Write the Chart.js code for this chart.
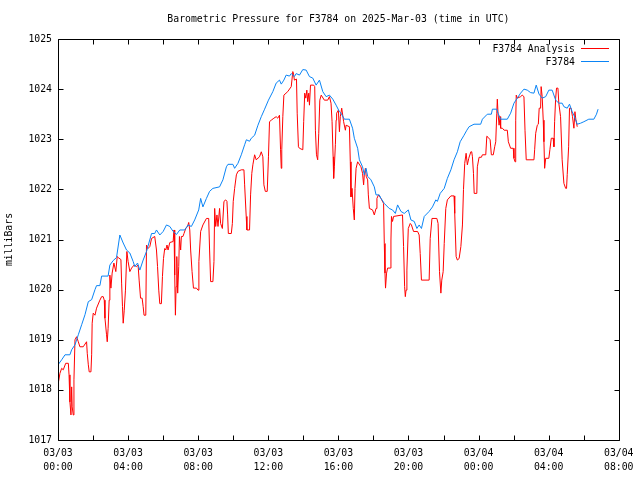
<!DOCTYPE html>
<html>
<head>
<meta charset="utf-8">
<script src="https://cdn.jsdelivr.net/npm/chart.js@4"></script>
<style>
  html, body { margin: 0; padding: 0; background: #fff; }
  #wrap { width: 640px; height: 480px; }
</style>
</head>
<body>
<div id="wrap"><canvas id="pressureChart" width="640" height="480"></canvas></div>
<script>
// hours since 2025-03-03 00:00 UTC
const xTickLabels = [
  ['03/03', '00:00'], ['03/03', '04:00'], ['03/03', '08:00'], ['03/03', '12:00'],
  ['03/03', '16:00'], ['03/03', '20:00'], ['03/04', '00:00'], ['03/04', '04:00'], ['03/04', '08:00']
];
const seriesNames = ['F3784 Analysis', 'F3784'];
const chartTitle = 'Barometric Pressure for F3784 on 2025-Mar-03 (time in UTC)';

const stationHours = [0.0,0.21,0.40,0.68,0.78,0.97,1.16,1.35,1.54,1.73,1.92,2.11,2.20,2.39,2.49,2.86,2.96,3.15,3.34,3.53,3.72,3.91,4.10,4.29,4.38,4.54,4.67,4.86,5.05,5.34,5.52,5.62,5.81,6.00,6.19,6.38,6.57,6.76,6.95,7.23,7.42,7.61,7.80,8.03,8.14,8.27,8.47,8.65,8.84,9.22,9.41,9.61,9.70,9.98,10.08,10.27,10.46,10.65,10.75,10.93,11.03,11.22,11.41,11.60,11.79,12.01,12.26,12.45,12.64,12.74,12.89,13.02,13.21,13.31,13.49,13.59,13.78,13.97,14.16,14.35,14.54,14.73,14.92,15.11,15.30,15.49,15.68,15.87,16.06,16.15,16.34,16.63,16.81,16.91,17.10,17.20,17.38,17.48,17.58,17.67,17.86,18.05,18.15,18.33,18.43,18.62,18.90,19.09,19.25,19.38,19.57,19.76,19.99,20.14,20.33,20.48,20.61,20.74,20.90,21.18,21.37,21.56,21.65,21.81,22.04,22.22,22.42,22.60,22.79,22.95,23.17,23.33,23.46,23.74,24.12,24.22,24.50,24.73,24.79,25.04,25.11,25.26,25.64,25.83,26.02,26.21,26.40,26.59,26.78,26.97,27.16,27.29,27.45,27.63,27.83,28.01,28.20,28.40,28.58,28.77,28.87,29.06,29.19,29.34,29.44,29.63,29.82,30.01,30.29,30.58,30.73,30.82];
const stationValues = [1018.50,1018.60,1018.70,1018.70,1018.80,1018.90,1019.10,1019.30,1019.50,1019.76,1019.80,1020.00,1020.08,1020.08,1020.27,1020.27,1020.49,1020.58,1020.64,1021.09,1020.93,1020.79,1020.73,1020.56,1020.46,1020.53,1020.39,1020.59,1020.76,1021.12,1021.12,1021.19,1021.09,1021.16,1021.29,1021.26,1021.16,1021.10,1021.19,1021.19,1021.29,1021.26,1021.39,1021.59,1021.82,1021.65,1021.82,1021.96,1022.02,1022.05,1022.19,1022.45,1022.50,1022.50,1022.42,1022.52,1022.69,1022.89,1022.99,1022.96,1023.02,1023.08,1023.28,1023.45,1023.60,1023.78,1023.95,1024.12,1024.18,1024.10,1024.18,1024.28,1024.26,1024.31,1024.25,1024.31,1024.28,1024.39,1024.38,1024.25,1024.22,1024.08,1024.18,1023.95,1023.85,1023.88,1023.80,1023.68,1023.55,1023.52,1023.40,1023.40,1023.22,1023.02,1022.82,1022.59,1022.45,1022.29,1022.42,1022.26,1022.19,1022.05,1021.89,1021.89,1021.82,1021.72,1021.62,1021.59,1021.52,1021.69,1021.56,1021.52,1021.59,1021.39,1021.36,1021.22,1021.29,1021.22,1021.46,1021.56,1021.65,1021.79,1021.76,1021.92,1022.02,1022.22,1022.39,1022.59,1022.75,1022.95,1023.08,1023.18,1023.25,1023.30,1023.30,1023.40,1023.50,1023.50,1023.60,1023.60,1023.52,1023.40,1023.40,1023.52,1023.72,1023.82,1023.92,1024.00,1023.98,1023.93,1023.92,1024.08,1023.90,1023.82,1023.85,1023.98,1023.98,1023.78,1023.72,1023.72,1023.65,1023.62,1023.70,1023.55,1023.48,1023.30,1023.32,1023.35,1023.40,1023.40,1023.50,1023.60];

const analysisHours = [0.0,0.03,0.11,0.21,0.30,0.44,0.59,0.63,0.68,0.74,0.78,0.81,0.87,0.91,0.97,1.06,1.16,1.25,1.44,1.63,1.67,1.73,1.78,1.88,1.92,1.95,2.01,2.11,2.20,2.39,2.49,2.58,2.64,2.68,2.77,2.81,2.86,2.92,2.96,3.02,3.09,3.19,3.30,3.38,3.47,3.59,3.63,3.68,3.72,3.78,3.85,3.93,4.00,4.10,4.20,4.34,4.48,4.57,4.63,4.71,4.80,4.86,4.91,5.01,5.05,5.14,5.24,5.34,5.52,5.62,5.68,5.75,5.81,5.90,5.96,6.02,6.09,6.15,6.22,6.28,6.38,6.57,6.62,6.66,6.70,6.74,6.78,6.83,6.89,6.93,7.00,7.04,7.13,7.19,7.29,7.39,7.46,7.52,7.57,7.65,7.73,7.90,7.99,8.04,8.14,8.27,8.47,8.60,8.65,8.71,8.84,8.90,8.94,9.00,9.07,9.13,9.22,9.28,9.38,9.47,9.57,9.64,9.68,9.72,9.89,9.95,10.00,10.08,10.18,10.27,10.46,10.61,10.65,10.74,10.78,10.93,10.99,11.06,11.12,11.22,11.31,11.50,11.60,11.69,11.75,11.83,11.94,12.01,12.07,12.17,12.32,12.45,12.54,12.64,12.70,12.74,12.77,12.83,12.89,13.11,13.31,13.40,13.44,13.49,13.61,13.65,13.72,13.78,13.97,14.02,14.08,14.14,14.20,14.25,14.31,14.35,14.41,14.59,14.65,14.69,14.75,14.82,14.88,14.94,15.02,15.20,15.39,15.49,15.58,15.64,15.70,15.73,15.77,15.83,15.87,15.90,16.00,16.06,16.11,16.19,16.30,16.40,16.44,16.63,16.68,16.72,16.78,16.85,16.91,16.95,17.01,17.10,17.29,17.38,17.44,17.48,17.54,17.59,17.67,17.71,17.77,17.95,18.05,18.15,18.20,18.29,18.43,18.58,18.62,18.66,18.69,18.75,18.81,18.96,19.00,19.03,19.09,19.15,19.66,19.72,19.78,19.82,19.86,19.91,19.99,20.10,20.17,20.29,20.52,20.61,20.67,20.74,21.18,21.24,21.34,21.62,21.69,21.77,21.85,21.90,21.98,22.04,22.13,22.22,22.42,22.60,22.64,22.72,22.79,22.89,22.99,23.08,23.14,23.21,23.29,23.36,23.44,23.56,23.61,23.65,23.71,23.75,23.90,23.93,24.03,24.16,24.22,24.41,24.47,24.54,24.66,24.73,24.84,24.92,24.98,25.04,25.07,25.11,25.17,25.23,25.26,25.36,25.46,25.64,25.70,25.83,25.98,26.02,26.08,26.12,26.15,26.21,26.40,26.49,26.59,26.65,26.72,27.16,27.20,27.26,27.35,27.41,27.46,27.54,27.57,27.63,27.69,27.73,27.77,27.83,28.01,28.07,28.15,28.26,28.30,28.34,28.40,28.45,28.53,28.58,28.68,28.77,28.87,28.97,29.02,29.06,29.14,29.19,29.28,29.36,29.44,29.50,29.55,29.63];
const analysisValues = [1018.06,1018.16,1018.33,1018.43,1018.40,1018.53,1018.53,1018.30,1017.76,1017.50,1018.06,1017.66,1017.50,1018.20,1019.00,1019.06,1018.96,1018.86,1018.86,1018.96,1018.73,1018.50,1018.36,1018.36,1018.70,1019.33,1019.53,1019.49,1019.63,1019.79,1019.86,1019.86,1019.79,1019.43,1019.10,1018.96,1019.23,1019.79,1020.29,1020.03,1020.33,1020.53,1020.36,1020.66,1020.63,1020.60,1020.13,1019.66,1019.33,1019.59,1019.99,1020.76,1020.56,1020.36,1020.43,1020.49,1020.46,1020.49,1020.19,1019.83,1019.83,1019.66,1019.49,1019.49,1020.89,1020.82,1020.86,1021.02,1021.06,1020.79,1020.46,1019.99,1019.72,1019.72,1020.26,1020.62,1020.82,1020.79,1020.89,1020.79,1020.94,1020.96,1021.19,1020.29,1019.49,1020.06,1020.66,1019.93,1020.46,1021.06,1020.79,1021.06,1021.06,1021.12,1021.22,1021.26,1021.34,1021.19,1020.79,1020.36,1020.03,1020.03,1019.99,1020.56,1021.16,1021.29,1021.42,1021.42,1020.79,1020.16,1020.16,1020.56,1021.62,1021.26,1021.49,1021.26,1021.62,1021.32,1021.22,1021.76,1021.79,1021.76,1021.49,1021.12,1021.12,1021.32,1021.76,1022.02,1022.29,1022.36,1022.39,1022.39,1022.09,1021.46,1021.19,1021.19,1021.89,1022.32,1022.49,1022.69,1022.59,1022.65,1022.75,1022.65,1022.09,1021.96,1021.96,1022.65,1023.35,1023.38,1023.42,1023.45,1023.42,1023.48,1022.79,1022.42,1022.79,1023.45,1023.88,1023.95,1024.05,1024.35,1024.30,1024.18,1024.20,1023.52,1022.85,1022.82,1022.79,1023.35,1023.92,1023.82,1023.98,1023.75,1023.92,1023.68,1024.08,1024.08,1024.05,1023.18,1022.69,1022.59,1023.12,1023.78,1023.88,1023.78,1023.78,1023.85,1023.72,1023.35,1022.65,1022.22,1022.45,1022.90,1023.38,1023.52,1023.58,1023.15,1023.45,1023.62,1023.35,1023.18,1023.28,1023.25,1022.55,1021.85,1022.02,1021.62,1021.39,1022.02,1022.42,1022.55,1022.45,1022.32,1022.09,1022.29,1022.42,1022.26,1022.19,1021.89,1021.62,1021.59,1021.49,1021.62,1021.82,1021.89,1021.82,1021.72,1020.92,1020.33,1020.03,1020.33,1020.43,1020.43,1020.99,1021.46,1021.36,1021.46,1021.49,1020.86,1020.06,1019.86,1019.99,1020.39,1021.22,1021.32,1021.29,1021.16,1021.16,1021.09,1020.72,1020.19,1020.19,1021.02,1021.42,1021.42,1021.32,1020.36,1019.93,1020.19,1020.36,1020.92,1021.62,1021.79,1021.87,1021.87,1021.52,1020.66,1020.59,1020.62,1020.86,1021.29,1022.00,1022.52,1022.72,1022.49,1022.62,1022.75,1022.75,1022.65,1022.32,1021.92,1021.92,1022.45,1022.64,1022.64,1022.69,1022.69,1023.06,1023.04,1022.99,1022.69,1022.69,1022.85,1022.95,1023.52,1023.80,1023.52,1023.28,1023.45,1023.22,1023.22,1023.18,1023.18,1022.95,1022.82,1022.82,1022.62,1022.55,1023.38,1023.88,1023.82,1023.85,1023.88,1023.85,1023.18,1022.59,1022.59,1022.79,1023.12,1023.28,1023.30,1023.62,1023.62,1024.05,1023.85,1023.38,1022.95,1022.42,1022.62,1022.62,1022.79,1023.02,1023.02,1022.85,1023.35,1023.82,1024.02,1024.02,1023.72,1023.45,1022.59,1022.12,1022.02,1022.02,1022.30,1022.85,1023.62,1023.62,1023.45,1023.22,1023.55,1023.40,1023.25];

const analysisColor = '#ff0000';
const stationColor = '#0a84f5';
const fontFamily = '"DejaVu Sans Mono", "Liberation Mono", monospace';

function toPoints(hours, values) {
  return hours.map((h, i) => ({ x: h, y: values[i] }));
}

// gnuplot style: ticks inside the box on all four sides, key inside top right,
// title centred over the plot box
const frameAndKey = {
  id: 'frameAndKey',
  afterDatasetsDraw(chart) {
    const { ctx, chartArea: a, scales } = chart;
    const xs = scales.x, ys = scales.y;
    const L = Math.round(a.left) + 0.5, R = Math.round(a.right) + 0.5;
    const T = Math.round(a.top) + 0.5, B = Math.round(a.bottom) + 0.5;
    ctx.save();
    ctx.strokeStyle = '#000';
    ctx.lineWidth = 1;
    ctx.beginPath();
    ctx.rect(L, T, R - L, B - T);
    for (let h = 0; h <= 32; h += 2) {
      const px = Math.round(xs.getPixelForValue(h)) + 0.5;
      ctx.moveTo(px, B); ctx.lineTo(px, B - 5);
      ctx.moveTo(px, T); ctx.lineTo(px, T + 5);
    }
    for (let v = 1017; v <= 1025; v++) {
      const py = Math.round(ys.getPixelForValue(v)) + 0.5;
      ctx.moveTo(L, py); ctx.lineTo(L + 5, py);
      ctx.moveTo(R, py); ctx.lineTo(R - 5, py);
    }
    ctx.stroke();

    ctx.font = '9.8px ' + fontFamily;
    ctx.fillStyle = '#000';
    ctx.textBaseline = 'middle';
    ctx.textAlign = 'center';
    ctx.fillText(chartTitle, (a.left + a.right) / 2, 19);

    ctx.textAlign = 'right';
    const colors = [analysisColor, stationColor];
    seriesNames.forEach((name, i) => {
      const yy = 49 + i * 13;
      ctx.fillText(name, 575, yy);
      ctx.strokeStyle = colors[i];
      ctx.beginPath();
      ctx.moveTo(581, yy - 0.5);
      ctx.lineTo(609, yy - 0.5);
      ctx.stroke();
    });
    ctx.restore();
  }
};

new Chart(document.getElementById('pressureChart'), {
  type: 'line',
  data: {
    datasets: [
      {
        label: seriesNames[0],
        data: toPoints(analysisHours, analysisValues),
        borderColor: analysisColor,
        borderWidth: 1,
        pointRadius: 0,
        tension: 0,
        order: 2
      },
      {
        label: seriesNames[1],
        data: toPoints(stationHours, stationValues),
        borderColor: stationColor,
        borderWidth: 1,
        pointRadius: 0,
        tension: 0,
        order: 1
      }
    ]
  },
  options: {
    responsive: false,
    animation: false,
    events: [],
    layout: { padding: { left: 0, right: 20, top: 39, bottom: 0 } },
    plugins: {
      legend: { display: false },
      tooltip: { enabled: false },
      title: { display: false }
    },
    scales: {
      x: {
        type: 'linear',
        min: 0,
        max: 32,
        grid: { display: false, drawTicks: false },
        border: { display: false },
        ticks: {
          stepSize: 4,
          autoSkip: false,
          maxRotation: 0,
          color: '#000',
          padding: 6.5,
          font: { family: fontFamily, size: 9.8, lineHeight: 1.4 },
          callback: (v) => xTickLabels[v / 4]
        },
        afterFit: (s) => { s.height = 40; }
      },
      y: {
        min: 1017,
        max: 1025,
        grid: { display: false, drawTicks: false },
        border: { display: false },
        title: {
          display: true,
          text: 'milliBars',
          color: '#000',
          font: { family: fontFamily, size: 9.8 },
          padding: { top: 4, bottom: 0 }
        },
        ticks: {
          stepSize: 1,
          color: '#000',
          padding: 6,
          font: { family: fontFamily, size: 9.8 },
          callback: (v) => String(v)
        },
        afterFit: (s) => { s.width = 58; }
      }
    }
  },
  plugins: [frameAndKey]
});
</script>
</body>
</html>
